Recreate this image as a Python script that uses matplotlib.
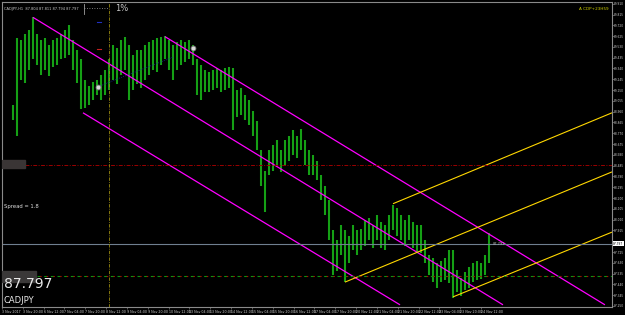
import numpy as np
import matplotlib
matplotlib.use("Agg")
import matplotlib.pyplot as plt
from matplotlib.patches import Rectangle

# ---------------- data (CADJPY H1, sampled ~every 3 bars) ----------------
highs = [89.02, 89.61, 89.59, 89.64, 89.68, 89.79, 89.64, 89.59, 89.61, 89.55,
         89.59, 89.61, 89.64, 89.68, 89.72, 89.59, 89.50, 89.42, 89.24, 89.19,
         89.22, 89.24, 89.28, 89.33, 89.42, 89.55, 89.52, 89.59, 89.62, 89.55,
         89.46, 89.50, 89.50, 89.55, 89.57, 89.59, 89.61, 89.62, 89.63, 89.59,
         89.55, 89.57, 89.59, 89.57, 89.59, 89.55, 89.42, 89.37, 89.33, 89.31,
         89.33, 89.34, 89.33, 89.34, 89.35, 89.34, 89.15, 89.17, 89.11, 89.06,
         88.97, 88.88, 88.62, 88.44, 88.62, 88.67, 88.71, 88.62, 88.71, 88.75,
         88.80, 88.75, 88.81, 88.71, 88.62, 88.58, 88.53, 88.40, 88.31, 88.18,
         87.92, 87.83, 87.96, 87.92, 87.87, 87.96, 87.92, 87.93, 88.01, 88.02,
         87.96, 88.05, 87.99, 87.96, 88.05, 88.14, 88.11, 88.05, 88.01, 88.05,
         87.99, 87.96, 87.96, 87.83, 87.70, 87.67, 87.63, 87.65, 87.67, 87.74,
         87.74, 87.57, 87.50, 87.55, 87.59, 87.63, 87.65, 87.63, 87.70, 87.89]
lows = [88.89, 88.75, 89.24, 89.21, 89.33, 89.42, 89.37, 89.28, 89.33, 89.27,
        89.35, 89.37, 89.42, 89.43, 89.46, 89.33, 89.21, 88.98, 88.99, 89.02,
        89.06, 89.11, 89.06, 89.11, 89.15, 89.24, 89.20, 89.28, 89.33, 89.06,
        89.15, 89.20, 89.17, 89.24, 89.28, 89.33, 89.31, 89.37, 89.42, 89.33,
        89.24, 89.33, 89.37, 89.40, 89.42, 89.37, 89.11, 89.06, 89.13, 89.13,
        89.15, 89.17, 89.13, 89.15, 89.17, 88.80, 88.91, 88.93, 88.89, 88.84,
        88.75, 88.62, 88.31, 88.08, 88.40, 88.44, 88.49, 88.43, 88.49, 88.53,
        88.58, 88.55, 88.62, 88.49, 88.40, 88.40, 88.36, 88.18, 88.05, 87.83,
        87.52, 87.56, 87.70, 87.46, 87.63, 87.74, 87.70, 87.74, 87.78, 87.83,
        87.76, 87.83, 87.76, 87.74, 87.83, 87.92, 87.87, 87.83, 87.78, 87.83,
        87.76, 87.72, 87.72, 87.63, 87.52, 87.46, 87.41, 87.46, 87.48, 87.45,
        87.32, 87.37, 87.34, 87.39, 87.41, 87.46, 87.48, 87.49, 87.52, 87.63]
last_price = 87.797

date_labels = ["3 Nov 2017", "3 Nov 20:00", "6 Nov 12:00", "7 Nov 04:00", "7 Nov 20:00",
               "8 Nov 12:00", "9 Nov 04:00", "9 Nov 20:00", "10 Nov 12:00", "13 Nov 04:00",
               "13 Nov 20:00", "14 Nov 12:00", "15 Nov 04:00", "15 Nov 20:00", "16 Nov 12:00",
               "17 Nov 04:00", "17 Nov 20:00", "20 Nov 12:00", "21 Nov 04:00", "21 Nov 20:00",
               "22 Nov 12:00", "23 Nov 04:00", "23 Nov 20:00", "24 Nov 12:00"]

# channel lines: (t0, p0, t1, p1) in bar-hours / price
magenta_lines = [(23.8, 89.79, 384.8, 87.26),
                 (62.2, 88.95, 305.7, 87.26),
                 (125.2, 89.62, 463.1, 87.26)]
yellow_lines = [(300.3, 88.15, 468.5, 88.95),
                (263.4, 87.46, 468.5, 88.43),
                (346.4, 87.33, 468.5, 87.90)]
blue_link = (73.7, 89.18, 131.3, 89.44)
red_level = 88.49
green_level = 87.51
vline_t = 82.2
circle_pts_t = [73.7, 146.7]
circle_pts_p = [89.18, 89.52]

ytick_vals = [87.250 + 0.095 * k for k in range(29)]

# ---------------- figure ----------------
W, H = 625, 315
fig = plt.figure(figsize=(W / 100, H / 100), dpi=100, facecolor="black")
ax = fig.add_axes([2 / W, 8 / H, 610 / W, 305 / H], facecolor="black")
ax.set_xlim(0, 468.5)
ax.set_ylim(87.241, 89.925)

t = 8.4 + 3.07 * np.arange(len(highs))
ax.vlines(t, lows, highs, color="#15a015", lw=1.5)

for (t0, p0, t1, p1) in magenta_lines:
    ax.plot([t0, t1], [p0, p1], color="#ff00ff", lw=0.9, solid_capstyle="butt")
for (t0, p0, t1, p1) in yellow_lines:
    ax.plot([t0, t1], [p0, p1], color="#ffd700", lw=0.8, solid_capstyle="butt")
ax.plot([blue_link[0], blue_link[2]], [blue_link[1], blue_link[3]], color="#1a2a9a",
        lw=0.6, linestyle=(0, (1, 1.5)))

# horizontal levels
ax.axhline(last_price, color="#6f7f90", lw=0.8)
ax.hlines(red_level, 17.7, 468.5, color="#9a0000", lw=0.7, linestyles=[(0, (4, 1.5, 1, 1.5))])
ax.hlines(green_level, 26.9, 468.5, color="#109010", lw=0.8, linestyles=[(0, (3, 3))])
ax.hlines(green_level, 26.9, 468.5, color="#b00000", lw=0.8, linestyles=[(3.5, (1.2, 4.8))])
ax.axvline(vline_t, color="#9a8a10", lw=0.6, linestyle=(0, (4, 1.5, 1, 1.5)))

# markers
ax.scatter(circle_pts_t, circle_pts_p, s=12, facecolor="#d8d8d8", edgecolor="#808080", lw=0.6, zorder=5)
ax.plot([73.0, 76.0], [89.75, 89.75], color="#2030c0", lw=0.8)
ax.plot([73.0, 76.0], [89.51, 89.51], color="#c02020", lw=0.8)

# blurred label boxes on left
ax.add_patch(Rectangle((0, 88.46), 18, 0.075, color="#3a3535", zorder=3))
ax.add_patch(Rectangle((0, 87.465), 26, 0.09, color="#3a3838", zorder=3))

# texts
ax.text(0.003, 0.985, "CADJPY,H1  87.804 87.811 87.794 87.797", transform=ax.transAxes,
        color="#c8c8c8", fontsize=2.6, va="top", ha="left")
ax.text(0.186, 0.993, "1%", transform=ax.transAxes, color="#c8c8c8", fontsize=6,
        va="top", ha="left")
ax.plot([0.135, 0.175], [0.98, 0.98], transform=ax.transAxes, color="#a0a0a0",
        lw=0.6, linestyle=(0, (1, 2)))
ax.plot([0.135, 0.135], [0.96, 0.995], transform=ax.transAxes, color="#a0a0a0", lw=0.6)
ax.text(0.995, 0.985, "A CDP+23H59", transform=ax.transAxes, color="#d0d000",
        fontsize=3, va="top", ha="right")
ax.text(0.003, 0.33, "Spread = 1.8", transform=ax.transAxes, color="#e0e0e0",
        fontsize=3.8, va="center", ha="left")
ax.text(0.003, 0.052, "87.797", transform=ax.transAxes, color="#e8e8e8",
        fontsize=10, va="bottom", ha="left")
ax.text(0.003, 0.005, "CADJPY", transform=ax.transAxes, color="#e8e8e8",
        fontsize=6, va="bottom", ha="left")
ax.text(377, last_price, "87.797", color="#b0b0b0", fontsize=2.6, va="center", ha="left")

# axes styling
for side in ["left", "top", "right", "bottom"]:
    ax.spines[side].set_color("#8a8a8a")
    ax.spines[side].set_linewidth(0.8)
ax.yaxis.tick_right()
ax.set_yticks(ytick_vals)
ax.set_yticklabels(["" if abs(v - last_price) < 0.05 else f"{v:.3f}" for v in ytick_vals])
ax.tick_params(axis="y", colors="#9a9a9a", labelsize=2.1, length=1.2, width=0.4, pad=0.4,
               labelcolor="#d0d0d0")
xt = [16 * k for k in range(len(date_labels))]
ax.set_xticks(xt)
ax.set_xticklabels(date_labels)
ax.tick_params(axis="x", colors="#9a9a9a", labelsize=2.3, length=1.5, width=0.4, pad=0.6,
               labelcolor="#d0d0d0")
for lab in ax.get_xticklabels():
    lab.set_horizontalalignment("left")

# current price box on axis
ax.text(1.002, last_price, "87.797", transform=ax.get_yaxis_transform(), color="black",
        fontsize=2.1, va="center", ha="left",
        bbox=dict(boxstyle="square,pad=0.15", fc="white", ec="none"), clip_on=False)

fig.savefig("out.png", dpi=100, facecolor="black")
